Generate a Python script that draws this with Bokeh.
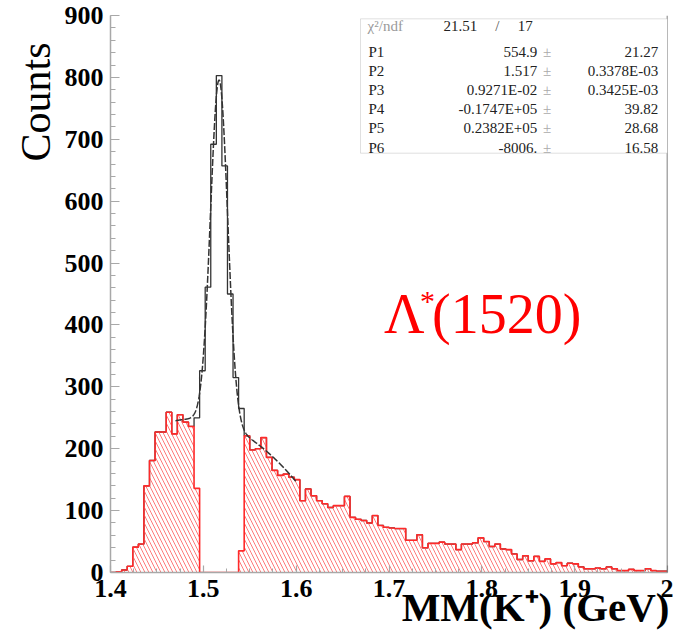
import numpy as np
from bokeh.plotting import figure
from bokeh.models import (ColumnDataSource, Label, BoxAnnotation, Span, FixedTicker,
                          CustomJSTickFormatter, Range1d, Title)
from bokeh.core.properties import value
from bokeh.embed import file_html
from bokeh.resources import INLINE

# ---------------- data ----------------
bin_lo, bin_hi, n_bins = 1.4, 2.0, 100

# red (hatched) histogram, counts per 6 MeV bin
sideband_counts = [
    0, 1, 4, 10, 41, 46, 140, 181, 227, 227,
    259, 224, 255, 243, 236, 136, 0, 0, 0, 0,
    0, 0, 0, 35, 221, 198, 200, 218, 186, 165,
    157, 159, 154, 150, 116, 135, 124, 116, 111, 105,
    108, 108, 123, 89, 86, 84, 80, 92, 76, 73,
    72, 71, 71, 52, 52, 61, 40, 47, 47, 49,
    46, 46, 37, 46, 46, 48, 56, 50, 42, 46,
    38, 37, 30, 21, 27, 19, 26, 18, 22, 14,
    16, 11, 15, 14, 9, 6, 6, 7, 6, 9,
    6, 3, 3, 5, 3, 3, 6, 3, 2, 2,
]
# black histogram (all events) in the Lambda(1520) peak bins
peak_first_bin = 15
peak_counts = [250, 326, 461, 692, 803, 657, 450, 315, 265]

# fit: gaussian + 2nd order polynomial
fit_lo, fit_hi = 1.47, 1.60
chi2_text, ndf_text = "21.51", "17"
param_names = ["P1", "P2", "P3", "P4", "P5", "P6"]
param_values = ["554.9", "1.517", "0.9271E-02", "-0.1747E+05", "0.2382E+05", "-8006."]
param_errors = ["21.27", "0.3378E-03", "0.3425E-03", "39.82", "28.68", "16.58"]

x_ticks = [1.4, 1.5, 1.6, 1.7, 1.8, 1.9, 2.0]
x_tick_labels = ["1.4", "1.5", "1.6", "1.7", "1.8", "1.9", "2"]
y_ticks = [0, 100, 200, 300, 400, 500, 600, 700, 800, 900]

# ---------------- derived ----------------
edges = np.linspace(bin_lo, bin_hi, n_bins + 1)
red = np.array(sideband_counts, dtype=float)
total = red.copy()
total[peak_first_bin:peak_first_bin + len(peak_counts)] = peak_counts


def outline(counts):
    xs = np.repeat(edges, 2)
    ys = np.concatenate([[0.0], np.repeat(counts, 2), [0.0]])
    return xs, ys


pv = [float(s) for s in param_values]
xf = np.linspace(fit_lo, fit_hi, 400)
yf = pv[0] * np.exp(-0.5 * ((xf - pv[1]) / pv[2]) ** 2) + pv[3] + pv[4] * xf + pv[5] * xf ** 2

SERIF = "Liberation Serif"

p = figure(width=673, height=631, x_range=Range1d(bin_lo, bin_hi), y_range=Range1d(0, 900),
           output_backend="svg", toolbar_location=None,
           min_border_left=110, min_border_right=6, min_border_top=15, min_border_bottom=59)
p.outline_line_color = None
p.xgrid.visible = False
p.ygrid.visible = False
p.background_fill_color = "white"
p.border_fill_color = "white"

# axes
axis_gray = "#a8a8a8"
xa = p.xaxis[0]
xa.ticker = FixedTicker(ticks=x_ticks, minor_ticks=list(np.round(np.arange(1.4, 2.0001, 0.025), 4)))
xa.formatter = CustomJSTickFormatter(args=dict(xt=x_ticks, xl=x_tick_labels), code="""
const i = xt.findIndex(t => Math.abs(t - tick) < 1e-6);
return i >= 0 ? xl[i] : '';
""")
ya = p.yaxis[0]
ya.ticker = FixedTicker(ticks=y_ticks, minor_ticks=list(range(0, 901, 20)))
for ax in (xa, ya):
    ax.axis_line_color = axis_gray
    ax.axis_line_width = 1.5
    ax.major_tick_line_color = axis_gray
    ax.minor_tick_line_color = axis_gray
    ax.major_tick_line_width = 1.2
    ax.minor_tick_line_width = 1
    ax.major_tick_out = 0
    ax.minor_tick_out = 0
    ax.major_label_text_font = SERIF
    ax.major_label_text_font_style = "bold"
    ax.major_label_text_font_size = "26px"
    ax.major_label_text_color = "black"
xa.major_tick_in = 7
xa.minor_tick_in = 4
ya.major_tick_in = 9
ya.minor_tick_in = 5
xa.major_label_standoff = 7
ya.major_label_standoff = 7

# axis titles in side panels
p.add_layout(Title(text="MM(K⁺) (GeV)", align="right", vertical_align="top",
                   standoff=-31, offset=-2, text_font=SERIF, text_font_style="bold",
                   text_font_size="41px", text_color="black"), "below")
p.add_layout(Title(text="Counts", align="right", vertical_align="top",
                   standoff=1, offset=27, text_font=SERIF, text_font_style="normal",
                   text_font_size="42px", text_color="black"), "left")

# histograms
bx, by = outline(total)
p.line(bx, by, line_color="#333333", line_width=1.3)

rx, ry = outline(red)
p.patch(rx, ry, fill_color=None, line_color=None,
        hatch_pattern="\\", hatch_color="#ff7a7a", hatch_weight=1, hatch_scale=8)
p.line(rx, ry, line_color="#ff2a2a", line_width=1.6)

# fit curve
p.line(xf, yf, line_color="#333333", line_width=1.5, line_dash="7 2")

# right frame line
p.add_layout(Span(location=bin_hi, dimension="height", line_color="#555555", line_width=1.5))

# stats box
p.add_layout(BoxAnnotation(left=1.6693, right=2.0, bottom=677.5, top=894.6,
                           fill_color="white", fill_alpha=1.0,
                           line_color="#999999", line_width=1))
row_y = [840.7 - 30.8 * i for i in range(len(param_names))]
src = ColumnDataSource(dict(name=param_names, val=param_values, err=param_errors,
                            pm=["±"] * len(param_names), y=row_y))
common = dict(text_font=value(SERIF), text_font_size=value("15px"), text_baseline="middle")
for xx, col, al, colr in [(1.6779, "name", "left", "#222222"), (1.8597, "val", "right", "#222222"),
                          (1.8704, "pm", "center", "#aaaaaa"), (1.9900, "err", "right", "#222222")]:
    r = p.text(x=xx, y="y", text=col, source=src, text_align=al, text_color=colr, **common)
    r.level = "overlay"

for txt, xx, al, colr in [("χ²/ndf", 1.6769, "left", "#9a9a9a"), (chi2_text, 1.7768, "center", "#222222"),
                          ("/", 1.8166, "center", "#555555"), (ndf_text, 1.8468, "center", "#222222")]:
    p.add_layout(Label(x=xx, y=883.8, text=txt, text_align=al, text_baseline="middle",
                       text_font=SERIF, text_font_size="15px", text_color=colr, level="overlay"))

# Lambda*(1520) annotation
p.add_layout(Label(x=1.6945, y=418, text="Λ", text_font=SERIF, text_font_size="56px",
                   text_color="#ff0000", text_baseline="middle", text_align="left"))
p.add_layout(Label(x=1.7334, y=440, text="*", text_font=SERIF, text_font_size="30px",
                   text_color="#ff0000", text_baseline="middle", text_align="left"))
p.add_layout(Label(x=1.7464, y=418, text="(1520)", text_font=SERIF, text_font_size="56px",
                   text_color="#ff0000", text_baseline="middle", text_align="left"))

open("out.html", "w").write(file_html(p, INLINE))
